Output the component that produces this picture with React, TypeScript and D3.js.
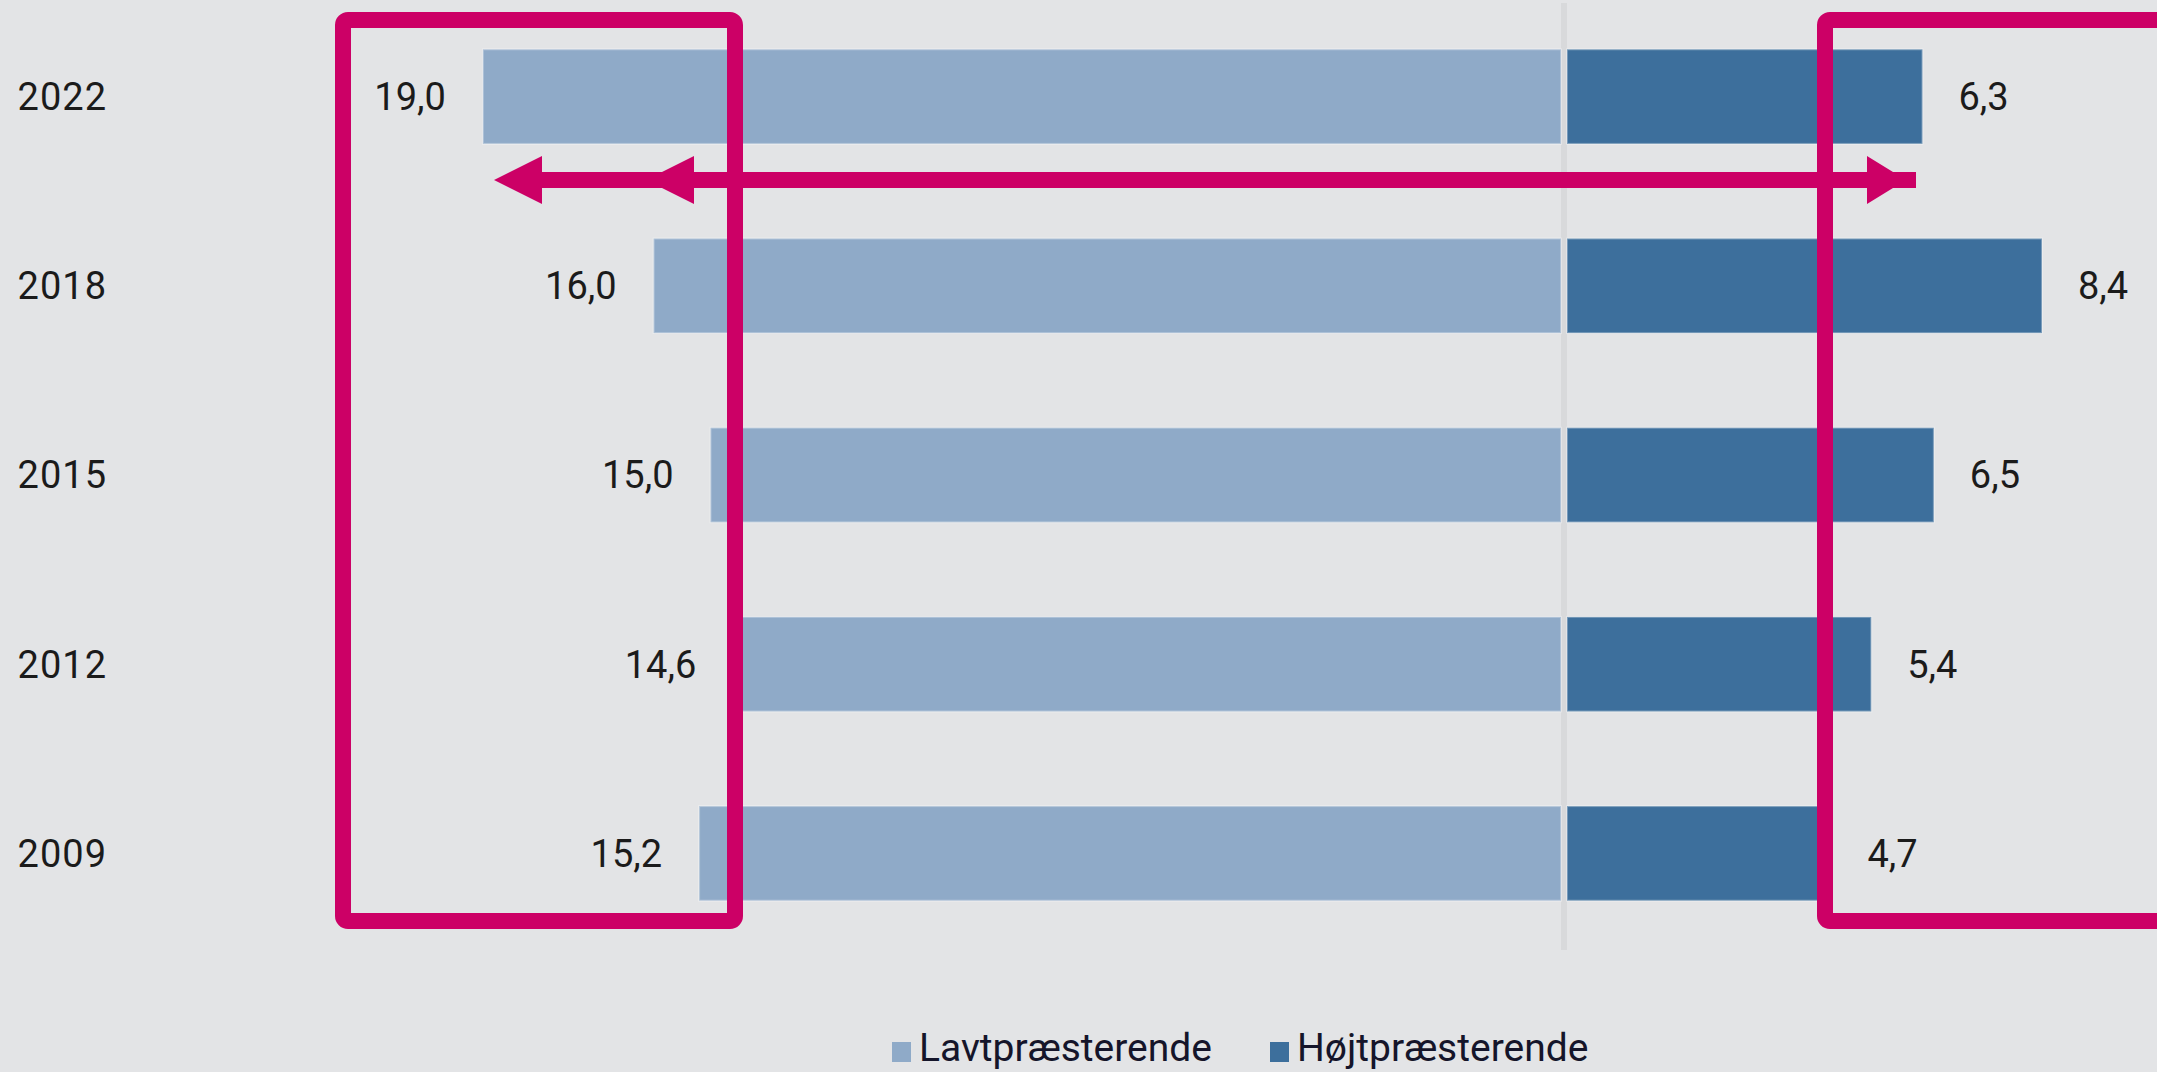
import React, { useEffect, useRef } from 'react';
import * as d3 from 'd3';

// PISA-style share of low / high performers (%)
const years = ['2022', '2018', '2015', '2012', '2009'];
const lowPerformers = [19.0, 16.0, 15.0, 14.6, 15.2];
const highPerformers = [6.3, 8.4, 6.5, 5.4, 4.7];
const seriesNames = ['Lavtpræsterende', 'Højtpræsterende'];
const seriesColors = ['#8faac8', '#3d6f9c'];

const WIDTH = 2157;
const HEIGHT = 1072;
const MAGENTA = '#cc0066';
const FONT = 'Roboto, "Liberation Sans", sans-serif';

const App = () => {
  const svgRef = useRef(null);

  useEffect(() => {
    const svg = d3.select(svgRef.current)
      .attr('width', WIDTH)
      .attr('height', HEIGHT);

    svg.selectAll('*').remove(); // Clear any previous chart

    svg.append('rect')
      .attr('width', WIDTH)
      .attr('height', HEIGHT)
      .attr('fill', '#e3e4e6');

    const x = d3.scaleLinear().domain([-20, 10]).range([426, 2133]);
    const y = d3.scaleBand()
      .domain(years)
      .range([2, 948])
      .paddingInner(0.5)
      .paddingOuter(0.25);

    const fmt = (v) => d3.format('.1f')(v).replace('.', ',');

    const rows = years.map((year, i) => ({
      year,
      low: lowPerformers[i],
      high: highPerformers[i],
    }));

    // zero line
    svg.append('line')
      .attr('x1', x(0))
      .attr('x2', x(0))
      .attr('y1', 3)
      .attr('y2', 950)
      .attr('stroke', '#d8d9db')
      .attr('stroke-width', 6);

    const row = svg.selectAll('.row')
      .data(rows)
      .enter()
      .append('g')
      .attr('class', 'row');

    row.append('rect')
      .attr('x', d => x(-d.low))
      .attr('y', d => y(d.year))
      .attr('width', d => x(0) - 3 - x(-d.low))
      .attr('height', y.bandwidth())
      .attr('fill', seriesColors[0])
      .attr('stroke', 'rgba(255,255,255,0.3)')
      .attr('stroke-width', 2);

    row.append('rect')
      .attr('x', x(0) + 3)
      .attr('y', d => y(d.year))
      .attr('width', d => x(d.high) - x(0) - 3)
      .attr('height', y.bandwidth())
      .attr('fill', seriesColors[1])
      .attr('stroke', 'rgba(255,255,255,0.3)')
      .attr('stroke-width', 2);

    const textAttrs = (sel) => sel
      .attr('font-family', FONT)
      .attr('font-size', 38)
      .attr('fill', '#1b1b1b')
      .attr('dy', '0.35em');

    row.append('text')
      .attr('x', 107)
      .attr('y', d => y(d.year) + y.bandwidth() / 2)
      .attr('text-anchor', 'end')
      .attr('letter-spacing', 1)
      .call(textAttrs)
      .text(d => d.year);

    row.append('text')
      .attr('x', d => x(-d.low) - 37)
      .attr('y', d => y(d.year) + y.bandwidth() / 2)
      .attr('text-anchor', 'end')
      .call(textAttrs)
      .text(d => fmt(d.low));

    row.append('text')
      .attr('x', d => x(d.high) + 36)
      .attr('y', d => y(d.year) + y.bandwidth() / 2)
      .attr('text-anchor', 'start')
      .call(textAttrs)
      .text(d => fmt(d.high));

    // legend
    const legendX = [892, 1270];
    const legend = svg.selectAll('.legend')
      .data(seriesNames)
      .enter()
      .append('g')
      .attr('class', 'legend')
      .attr('transform', (d, i) => `translate(${legendX[i]},1061)`);

    legend.append('rect')
      .attr('x', 0)
      .attr('y', -19)
      .attr('width', 19)
      .attr('height', 20)
      .attr('fill', (d, i) => seriesColors[i]);

    legend.append('text')
      .attr('x', 27)
      .attr('y', 0)
      .attr('font-family', FONT)
      .attr('font-size', 39)
      .attr('fill', '#15152a')
      .text(d => d);

    // magenta annotations
    svg.append('rect')
      .attr('x', 343).attr('y', 20)
      .attr('width', 392).attr('height', 901)
      .attr('rx', 5)
      .attr('fill', 'none')
      .attr('stroke', MAGENTA)
      .attr('stroke-width', 16);

    svg.append('rect')
      .attr('x', 1825).attr('y', 20)
      .attr('width', 420).attr('height', 901)
      .attr('rx', 5)
      .attr('fill', 'none')
      .attr('stroke', MAGENTA)
      .attr('stroke-width', 16);

    const arrow = svg.append('g').attr('fill', MAGENTA);
    arrow.append('rect')
      .attr('x', 530).attr('y', 172)
      .attr('width', 1916 - 530).attr('height', 16);
    arrow.append('polygon').attr('points', '494,180 542,156 542,204');
    arrow.append('polygon').attr('points', '646,180 694,156 694,204');
    arrow.append('polygon').attr('points', '1867,156 1906,180 1867,204');
  }, []);

  return (
    <svg
      ref={svgRef}
      style={{ position: 'absolute', left: 0, top: 0, display: 'block' }}
    ></svg>
  );
};

export default App;
